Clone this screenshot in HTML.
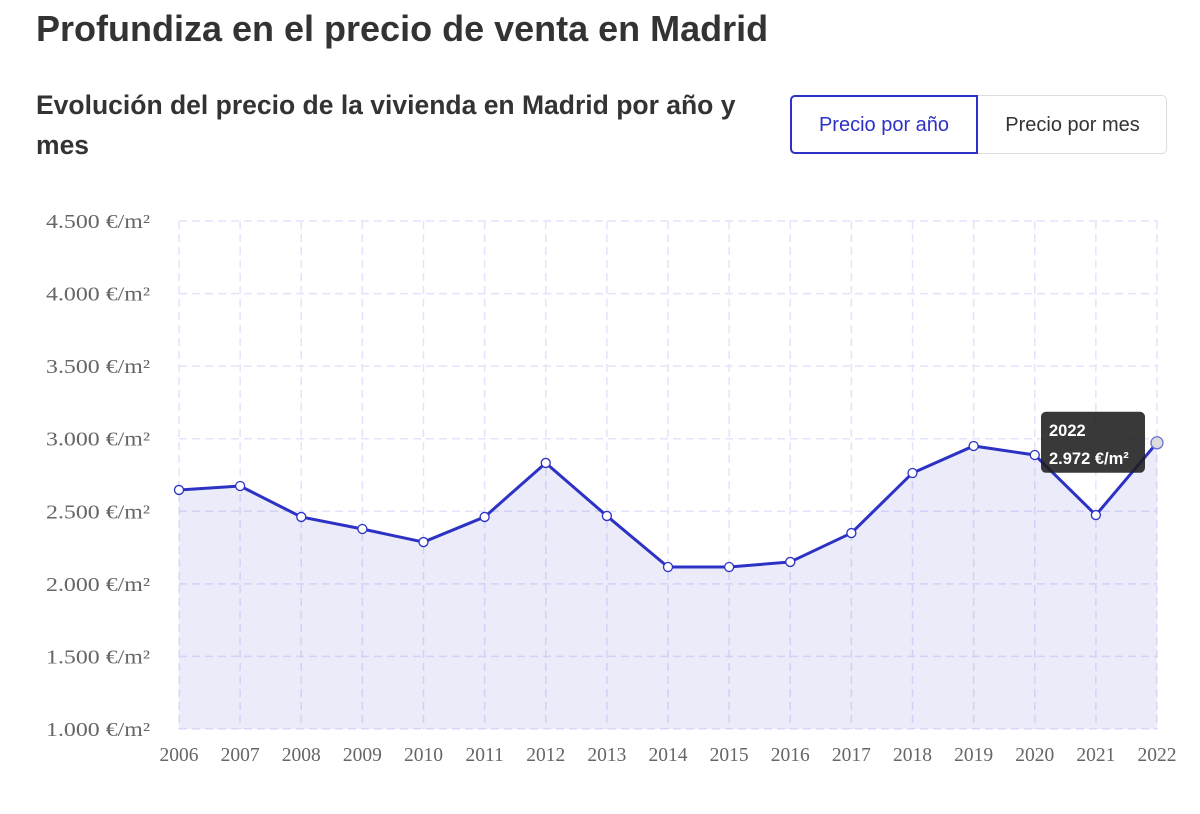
<!DOCTYPE html>
<html><head><meta charset="utf-8">
<style>
body{margin:0;width:1200px;height:814px;background:#fff;font-family:"Liberation Sans",sans-serif;position:relative;overflow:hidden}
h1{position:absolute;left:36px;top:8px;margin:0;font-size:36px;font-weight:bold;color:#333}
h2{position:absolute;left:36px;top:85px;margin:0;width:735px;font-size:26.5px;font-weight:bold;color:#333;line-height:40px;letter-spacing:0}
.btns{position:absolute;left:790px;top:95px;width:377px;height:59px;border:1px solid #ddd;border-radius:5px;box-sizing:border-box}
.b{position:absolute;top:0;height:59px;line-height:59px;text-align:center;font-size:20px;box-sizing:border-box}
.b1{left:-1px;top:-1px;width:188px;height:59px;border:2px solid #2c32c4;border-radius:5px 0 0 5px;color:#2c32c4;line-height:56px}
.b2{left:187px;width:189px;color:#333}
svg{position:absolute;left:0;top:0}
</style></head><body>
<h1>Profundiza en el precio de venta en Madrid</h1>
<h2>Evolución del precio de la vivienda en Madrid por año y mes</h2>
<div class="btns">
<div class="b b1">Precio por año</div>
<div class="b b2">Precio por mes</div>
</div>
<svg id="c" width="1200" height="814"></svg>
<script>
const years=["2006","2007","2008","2009","2010","2011","2012","2013","2014","2015","2016","2017","2018","2019","2020","2021","2022"];
const prices=[2647,2674,2461,2378,2288,2461,2833,2468,2116,2116,2151,2350,2764,2950,2888,2474,2972];
const yTicks=[1000,1500,2000,2500,3000,3500,4000,4500];
const yLabels=["1.000 €/m²","1.500 €/m²","2.000 €/m²","2.500 €/m²","3.000 €/m²","3.500 €/m²","4.000 €/m²","4.500 €/m²"];
const svg=document.getElementById('c');const NS='http://www.w3.org/2000/svg';
const x0=179,x1=1157,yTop=221,yBot=729;
const X=i=>x0+(x1-x0)*i/(years.length-1);
const Y=v=>yBot-(v-1000)/3500*(yBot-yTop);
function mk(t,a){const e=document.createElementNS(NS,t);for(const k in a)e.setAttribute(k,a[k]);svg.appendChild(e);return e;}
yTicks.forEach((v,i)=>{
 const l=mk('line',{x1:x0,x2:x1,y1:Y(v),y2:Y(v),stroke:'#e2e4fd','stroke-dasharray':'8 5','stroke-width':1.5});
 
 const t=mk('text',{x:150,y:Y(v)+7,'text-anchor':'end','font-family':'Liberation Serif, serif','font-size':20,fill:'#666',textLength:104,lengthAdjust:'spacingAndGlyphs'});
 t.textContent=yLabels[i];
});
years.forEach((y,i)=>{
 const l=mk('line',{x1:X(i),x2:X(i),y1:yTop,y2:yBot,stroke:'#e2e4fd','stroke-dasharray':'8 5','stroke-width':1.5});
 
 const t=mk('text',{x:X(i),y:761,'text-anchor':'middle','font-family':'Liberation Serif, serif','font-size':19.5,fill:'#666'});
 t.textContent=y;
});
let d=prices.map((v,i)=>(i?'L':'M')+X(i)+' '+Y(v)).join(' ');
const area=mk('path',{d:d+` L${X(prices.length-1)} ${yBot} L${x0} ${yBot} Z`,fill:'rgba(60,60,200,0.1)'});

const line=mk('path',{d:d,fill:'none',stroke:'#2c32c4','stroke-width':3});

prices.forEach((v,i)=>{
 const last=i===prices.length-1;
 const c=mk('circle',{cx:X(i),cy:Y(v),r:last?6:4.5,fill:last?'#ddd':'#fff',stroke:last?'#6a6fd6':'#2c32c4','stroke-width':1.3});
 
});
const li=prices.length-1;
const g=document.createElementNS(NS,'g');svg.appendChild(g);

const tx=X(li)-116,ty=Y(prices[li])-31;
const r=document.createElementNS(NS,'rect');
[['x',tx],['y',ty],['width',104],['height',61],['rx',5],['fill','rgba(30,30,30,0.88)']].forEach(a=>r.setAttribute(a[0],a[1]));g.appendChild(r);
[[years[li],ty+24],[prices[li].toLocaleString('de-DE')+' €/m²',ty+52]].forEach(a=>{
 const t=document.createElementNS(NS,'text');t.setAttribute('x',tx+8);t.setAttribute('y',a[1]);
 t.setAttribute('fill','#fff');t.setAttribute('font-size',16.5);t.setAttribute('font-weight','bold');t.setAttribute('font-family','Liberation Sans, sans-serif');
 t.textContent=a[0];g.appendChild(t);
});
</script>
</body></html>
